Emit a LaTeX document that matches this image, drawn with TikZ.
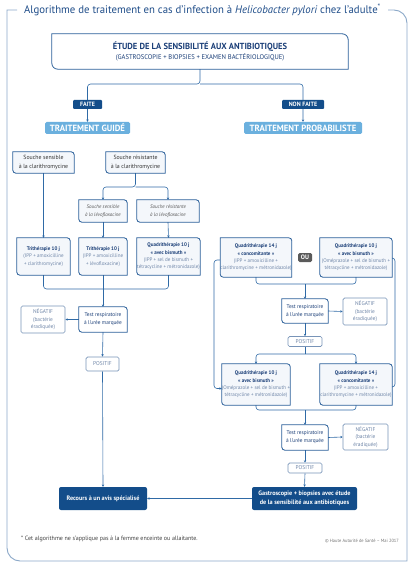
\documentclass[tikz,border=0pt]{standalone}
\usepackage{fontspec}
\setmainfont{PT Sans}
\newfontfamily\cnd[FakeStretch=0.97]{PT Sans}
\newfontfamily\ttlf[FakeStretch=0.98]{PT Sans}
\usetikzlibrary{arrows.meta,calc}
\pgfdeclarelayer{bg}\pgfsetlayers{bg,main}
\definecolor{framec}{HTML}{8BA8C8}
\definecolor{navy}{HTML}{1B3F78}
\definecolor{darkf}{HTML}{134D8A}
\definecolor{lightb}{HTML}{6BB0DE}
\definecolor{linec}{HTML}{2F6AA6}
\definecolor{boxc}{HTML}{2B5F99}
\definecolor{gb}{HTML}{6F86A8}
\definecolor{negc}{HTML}{7894B8}
\definecolor{boxfill}{HTML}{F4F7FB}
\definecolor{ttlc}{HTML}{1F4D89}
\definecolor{ouc}{HTML}{5A5A5A}
\newcommand\leaf[2][3pt]{\draw[draw=boxc,line width=0.8pt] (#2.north west) -- ([xshift=-#1]#2.north east) arc[start angle=90,end angle=0,radius=#1] -- (#2.south east) -- ([xshift=#1]#2.south west) arc[start angle=270,end angle=180,radius=#1] -- cycle;}
\tikzset{
  ln/.style={draw=linec,line width=0.6pt,rounded corners=3pt},
  arr/.style={ln,-{Stealth[length=2.4pt,width=2.4pt]}},
  bx/.style={fill=boxfill,inner sep=0pt,align=center,text=gb,font=\cnd\fontsize{5.2}{7.3}\selectfont},
  sou/.style={fill=boxfill,inner sep=0pt,align=center,text=black!80,font=\cnd\fontsize{6}{8.4}\selectfont},
  negb/.style={draw=negc,line width=0.7pt,fill=white,rounded corners=1.5pt,inner sep=0pt,align=center,text=gb,font=\cnd\fontsize{5.5}{7.6}\selectfont},
  posb/.style={draw=negc,line width=0.7pt,fill=white,rounded corners=1.5pt,inner sep=0pt,align=center,text=gb,font=\cnd\fontsize{5.6}{7}\selectfont},
  tst/.style={fill=white,inner sep=0pt,align=center,text=navy,font=\cnd\fontsize{5.5}{8}\selectfont},
  lab/.style={fill=darkf,text=white,rounded corners=1pt,inner sep=0pt,font=\cnd\fontsize{6.2}{6.5}\selectfont\bfseries},
  tb/.style={fill=lightb,text=white,rounded corners=1.5pt,inner sep=0pt,font=\cnd\fontsize{9}{10}\selectfont\bfseries},
  dk/.style={fill=darkf,text=white,rounded corners=2pt,inner sep=0pt,align=center,font=\cnd\fontsize{6.4}{8.4}\selectfont\bfseries},
}
\newcommand\hd[1]{\textcolor{navy}{\bfseries #1}}
\begin{document}
\begin{tikzpicture}[x=1pt,y=-1pt]
\useasboundingbox (0,0) rectangle (416,572);
% frame
\draw[framec,line width=0.9pt] (17,10) -- (7,10) -- (7,548) arc[start angle=180,end angle=270,radius=13pt] -- (407,561) -- (407,23) arc[start angle=0,end angle=90,radius=13pt] -- (388,10);
\node[text=ttlc,font=\ttlf\fontsize{11}{12}\selectfont,inner sep=0pt] (title) at (202.5,10) {Algorithme de traitement en cas d’infection à \textit{Helicobacter pylori} chez l’adulte\textsuperscript{*}};
% main box
\node[fill=white,minimum width=296,minimum height=35,inner sep=0pt,align=center,text=navy,font=\cnd\fontsize{6.8}{9.5}\selectfont] (main) at (200,51.5) {{\fontsize{8.8}{10}\selectfont\bfseries ÉTUDE DE LA SENSIBILITÉ AUX ANTIBIOTIQUES}\\(GASTROSCOPIE + BIOPSIES + EXAMEN BACTÉRIOLOGIQUE)};
\leaf[6pt]{main}
% labels
\node[lab,minimum width=29,minimum height=9] (faite) at (87.5,104.5) {FAITE};
\node[lab,minimum width=42,minimum height=9] (nonfaite) at (303,104.5) {NON FAITE};
\node[tb,minimum width=85,minimum height=12] (guide) at (87.5,128) {TRAITEMENT GUIDÉ};
\node[tb,minimum width=118,minimum height=12] (proba) at (303,128) {TRAITEMENT PROBABILISTE};
% left column
\node[sou,minimum width=61,minimum height=21] (ssc) at (43.5,162.5) {Souche sensible\\à la clarithromycine};
\leaf{ssc}
\node[sou,minimum width=59,minimum height=21] (src) at (135.5,162.5) {Souche résistante\\à la clarithromycine};
\leaf{src}
\node[sou,text=black!65,minimum width=48,minimum height=22,font=\cnd\fontsize{5.2}{7.5}\selectfont\itshape] (ssl) at (103,211) {Souche sensible\\à la lévofloxacine};
\leaf{ssl}
\node[sou,text=black!65,minimum width=62,minimum height=22,font=\cnd\fontsize{5.2}{7.5}\selectfont\itshape] (srl) at (168,211) {Souche résistante\\à la lévofloxacine};
\leaf{srl}
\node[bx,minimum width=53,minimum height=37] (t1) at (43.5,256.5) {\hd{Trithérapie 10 j}\\(IPP + amoxicilline\\+ clarithromycine)};
\leaf{t1}
\node[bx,minimum width=48,minimum height=37] (t2) at (103,256.5) {\hd{Trithérapie 10 j}\\(IPP + amoxicilline\\+ lévofloxacine)};
\leaf{t2}
\node[bx,minimum width=63,minimum height=37] (t3) at (168.5,256.5) {\hd{Quadrithérapie 10 j}\\\hd{« avec bismuth »}\\(IPP + sel de bismuth +\\tétracycline + métronidazole)};
\leaf{t3}
\node[tst,minimum width=48,minimum height=25] (test1) at (103,319.5) {Test respiratoire\\à l’urée marquée};
\leaf{test1}
\node[negb,minimum width=44,minimum height=27] (neg1) at (43,319.5) {NÉGATIF\\(bactérie\\éradiquée)};
\node[posb,minimum width=33,minimum height=14] (pos1) at (102.5,364) {POSITIF};
\node[dk,minimum width=88,minimum height=23] (recours) at (103,498.5) {Recours à un avis spécialisé};
\node[dk,minimum width=105,minimum height=23] (gastro) at (304.5,498.5) {Gastroscopie + biopsies avec étude\\de la sensibilité aux antibiotiques};
% right column
\node[bx,minimum width=68,minimum height=39] (q14a) at (256,257.5) {\hd{Quadrithérapie 14 j}\\\hd{« concomitante »}\\(IPP + amoxicilline +\\clarithromycine + métronidazole)};
\leaf{q14a}
\node[fill=ouc,text=white,rounded corners=1.5pt,inner sep=0pt,minimum width=14,minimum height=9,font=\cnd\fontsize{6.4}{7}\selectfont\bfseries] (ou) at (305,257.5) {OU};
\node[bx,minimum width=72,minimum height=39] (q10a) at (356,257.5) {\hd{Quadrithérapie 10 j}\\\hd{« avec bismuth »}\\(Oméprazole + sel de bismuth +\\tétracycline + métronidazole)};
\leaf{q10a}
\node[tst,minimum width=46,minimum height=24] (test2) at (305,311) {Test respiratoire\\à l’urée marquée};
\leaf{test2}
\node[negb,minimum width=44,minimum height=27] (neg2) at (365,311.5) {NÉGATIF\\(bactérie\\éradiquée)};
\node[posb,minimum width=34,minimum height=10] (pos2) at (305,341.5) {POSITIF};
\node[bx,minimum width=68,minimum height=41] (q10b) at (256,384.5) {\hd{Quadrithérapie 10 j}\\\hd{« avec bismuth »}\\(Oméprazole + sel de bismuth +\\tétracycline + métronidazole)};
\leaf{q10b}
\node[bx,minimum width=72,minimum height=41] (q14b) at (356,384.5) {\hd{Quadrithérapie 14 j}\\\hd{« concomitante »}\\(IPP + amoxicilline +\\clarithromycine + métronidazole)};
\leaf{q14b}
\node[tst,minimum width=46,minimum height=25] (test3) at (305,437.5) {Test respiratoire\\à l’urée marquée};
\leaf{test3}
\node[negb,minimum width=45,minimum height=26] (neg3) at (365.5,437) {NÉGATIF\\(bactérie\\éradiquée)};
\node[posb,minimum width=34,minimum height=10] (pos3) at (305,468) {POSITIF};
% footnotes
\node[anchor=west,inner sep=0pt,text=black!75,font=\cnd\fontsize{6.2}{7}\selectfont] (fn) at (21,539) {* Cet algorithme ne s’applique pas à la femme enceinte ou allaitante.};
\node[anchor=east,inner sep=0pt,text=black!55,font=\cnd\fontsize{4.6}{6}\selectfont] (copy) at (399,541) {© Haute Autorité de Santé – Mai 2017};
% connectors
\coordinate (jm) at (200,84);
\coordinate (jr) at (135.5,187);
\coordinate (jt) at (103,289);
\coordinate (ja) at (305,284);
\coordinate (jp) at (305,354);
\coordinate (jb) at (305,410);
\coordinate (ll) at (214,300);
\coordinate (rl) at (395,300);
\begin{pgfonlayer}{bg}
\draw[arr] (main.south) -- (jm) -| (guide.north);
\draw[arr] (jm) -| (proba.north);
\draw[arr] (src.south) -- (jr) -| (ssl.north);
\draw[arr] (jr) -| (srl.north);
\draw[arr] (ssc.south) -- (t1.north);
\draw[arr] (ssl.south) -- (t2.north);
\draw[arr] (srl.south) -- (t3.north);
\draw[ln] (t1.south) |- (jt) -| (t3.south);
\draw[arr] (t2.south) -- (test1.north);
\draw[arr] (test1.west) -- (neg1.east);
\draw[arr] (test1.south) -- (pos1.north);
\draw[arr] (pos1.south) -- (recours.north);
\draw[arr] (gastro.west) -- (recours.east);
\draw[ln] (q14a.south) |- (ja) -| (q10a.south);
\draw[arr] (ja) -- (test2.north);
\draw[arr] (test2.east) -- (neg2.west);
\draw[arr] (test2.south) -- (pos2.north);
\draw[ln] (pos2.south) -- (jp);
\draw[arr] (jp) -| (q10b.north);
\draw[arr] (jp) -| (q14b.north);
\draw[arr] ([yshift=-2.5pt]q14a.west) -| (ll) |- ([yshift=-4pt]q10b.west);
\draw[arr] ([yshift=-0.5pt]q10a.east) -| (rl) |- ([yshift=-2.5pt]q14b.east);
\draw[ln] (q10b.south) |- (jb) -| (q14b.south);
\draw[arr] (jb) -- (test3.north);
\draw[arr] (test3.east) -- (neg3.west);
\draw[arr] (test3.south) -- (pos3.north);
\draw[arr] (pos3.south) -- (gastro.north);
\end{pgfonlayer}
\end{tikzpicture}
\end{document}
